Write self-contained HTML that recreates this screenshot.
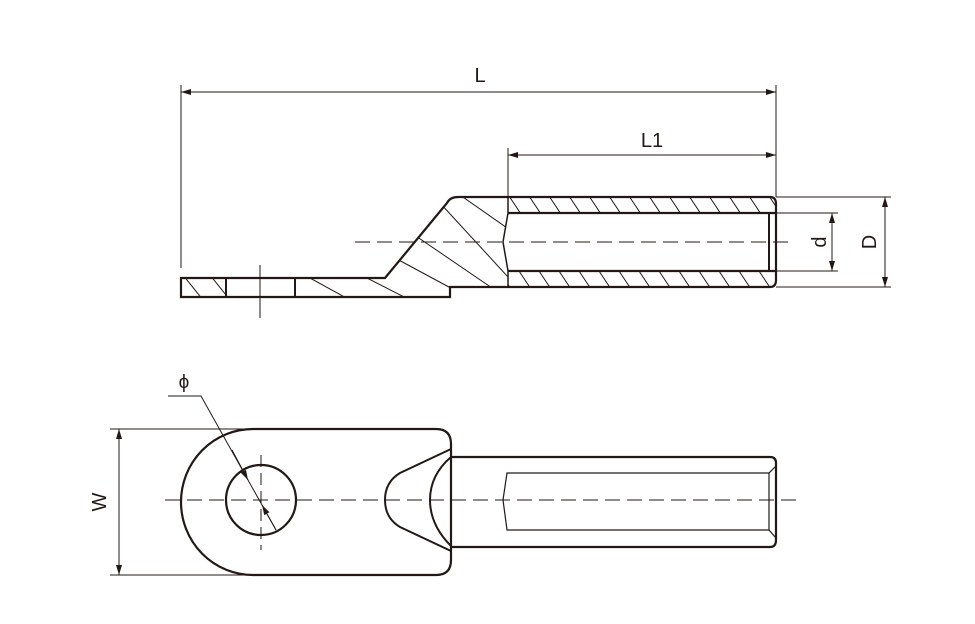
<!DOCTYPE html>
<html><head><style>body{margin:0;background:#fff}svg{display:block}</style></head><body>
<svg width="975" height="624" viewBox="0 0 975 624" xmlns="http://www.w3.org/2000/svg" font-family="Liberation Sans, sans-serif">
<defs>
<marker id="a" viewBox="0 0 10 6" refX="10" refY="3" markerWidth="10" markerHeight="6" orient="auto-start-reverse" markerUnits="userSpaceOnUse"><path d="M0,0 L10,3 L0,6z" fill="#231815"/></marker>
<clipPath id="sec"><path d="M181,278 L385,278 L447,203 Q450,197 458,197 L508,197 L508,213 L503,242 L508,271 L508,287 L450,287 L450,297 L181,297Z"/></clipPath>
<clipPath id="wall"><path d="M508,197 L770,197 Q776,197 776,204 L776,213 L508,213Z M508,271 L776,271 L776,280 Q776,287 770,287 L508,287Z"/></clipPath>
</defs>
<g stroke="#231815" fill="none">
<line x1="181" y1="85" x2="181" y2="268" stroke-width="1"/>
<line x1="776" y1="85" x2="776" y2="197" stroke-width="1"/>
<line x1="181" y1="92" x2="776" y2="92" stroke-width="1" marker-start="url(#a)" marker-end="url(#a)"/>
<line x1="508" y1="148" x2="508" y2="200" stroke-width="1"/>
<line x1="508" y1="155" x2="776" y2="155" stroke-width="1" marker-start="url(#a)" marker-end="url(#a)"/>
<g clip-path="url(#sec)" stroke-width="1">
<line x1="183" y1="275" x2="203" y2="300"/><line x1="210" y1="275" x2="230" y2="300"/>
<line x1="310" y1="278" x2="350" y2="300"/><line x1="367" y1="278" x2="410" y2="300"/>
<line x1="395" y1="258" x2="460" y2="293"/><line x1="410" y1="232" x2="495" y2="290"/>
<line x1="440" y1="203" x2="520" y2="290"/><line x1="460" y1="195" x2="510" y2="230"/>
</g>
<g clip-path="url(#wall)" stroke-width="1">
<path d="M505,190 l20,30 M525,190 l20,30 M545,190 l20,30 M565,190 l20,30 M585,190 l20,30 M605,190 l20,30 M625,190 l20,30 M645,190 l20,30 M665,190 l20,30 M685,190 l20,30 M705,190 l20,30 M725,190 l20,30 M745,190 l20,30 M765,190 l20,30"/>
<path d="M495,265 l20,30 M515,265 l20,30 M535,265 l20,30 M555,265 l20,30 M575,265 l20,30 M595,265 l20,30 M615,265 l20,30 M635,265 l20,30 M655,265 l20,30 M675,265 l20,30 M695,265 l20,30 M715,265 l20,30 M735,265 l20,30 M755,265 l20,30"/>
</g>
<path d="M181,278 L385,278 L447,203 Q450,197 458,197 L770,197 Q776,197 776,204 L776,280 Q776,287 770,287 L450,287 L450,297 L181,297Z" stroke-width="2.2"/>
<line x1="226" y1="278" x2="226" y2="297" stroke-width="2"/>
<line x1="295" y1="278" x2="295" y2="297" stroke-width="2"/>
<line x1="260" y1="265" x2="260" y2="318" stroke-width="1"/>
<path d="M508,197 L508,213 L503,242 L508,271 L508,287" stroke-width="1.5"/>
<path d="M508,213 L776,213 M508,271 L776,271" stroke-width="2.2"/>
<line x1="769" y1="213" x2="769" y2="271" stroke-width="2"/>
<line x1="355" y1="242" x2="795" y2="242" stroke-width="1" stroke-dasharray="15,7"/>
<line x1="776" y1="213" x2="838" y2="213" stroke-width="1"/>
<line x1="776" y1="271" x2="838" y2="271" stroke-width="1"/>
<line x1="832" y1="213" x2="832" y2="271" stroke-width="1" marker-start="url(#a)" marker-end="url(#a)"/>
<line x1="776" y1="197" x2="891" y2="197" stroke-width="1"/>
<line x1="776" y1="287" x2="891" y2="287" stroke-width="1"/>
<line x1="885" y1="197" x2="885" y2="287" stroke-width="1" marker-start="url(#a)" marker-end="url(#a)"/>
<path d="M253,429 L436,429 Q451,429 451,444 L451,560 Q451,575 436,575 L253,575 A72,73 0 0 1 253,429Z" stroke-width="2.2"/>
<circle cx="261" cy="500" r="35" stroke-width="2.2"/>
<path d="M451,449 L400,473 Q385,482 385,500 Q385,518 400,527 L451,551" stroke-width="2"/>
<path d="M451,457 Q430,475 430,500 Q430,525 451,546" stroke-width="2"/>
<path d="M451,457 L770,457 Q776,457 776,463 L776,540 Q776,547 770,547 L451,547" stroke-width="2.2"/>
<path d="M769,473 L507,473 L503,500 L507,530 L769,530" stroke-width="1.2"/>
<path d="M776,466 L769,473 L769,530 L776,538" stroke-width="1.2"/>
<line x1="165" y1="500" x2="800" y2="500" stroke-width="1" stroke-dasharray="15,7"/>
<line x1="261" y1="455" x2="261" y2="550" stroke-width="1" stroke-dasharray="12,6"/>
<line x1="110" y1="429" x2="253" y2="429" stroke-width="1"/>
<line x1="110" y1="575" x2="253" y2="575" stroke-width="1"/>
<line x1="119" y1="429" x2="119" y2="575" stroke-width="1" marker-start="url(#a)" marker-end="url(#a)"/>
<polyline points="168,396 201,396 276,530" stroke-width="1"/>
<line x1="232" y1="450" x2="248" y2="480" stroke-width="1" marker-end="url(#a)"/>
<line x1="262" y1="505" x2="276" y2="530" stroke-width="1" marker-start="url(#a)"/>
</g>
<g fill="#231815" font-size="20">
<text x="480" y="82" text-anchor="middle">L</text>
<text x="652" y="147" text-anchor="middle">L1</text>
<text transform="translate(826,242) rotate(-90)" text-anchor="middle">d</text>
<text transform="translate(876,242) rotate(-90)" text-anchor="middle">D</text>
<text transform="translate(106,502) rotate(-90)" text-anchor="middle">W</text>
<text x="184" y="388" text-anchor="middle" font-size="19">ϕ</text>
</g>
</svg>
</body></html>
